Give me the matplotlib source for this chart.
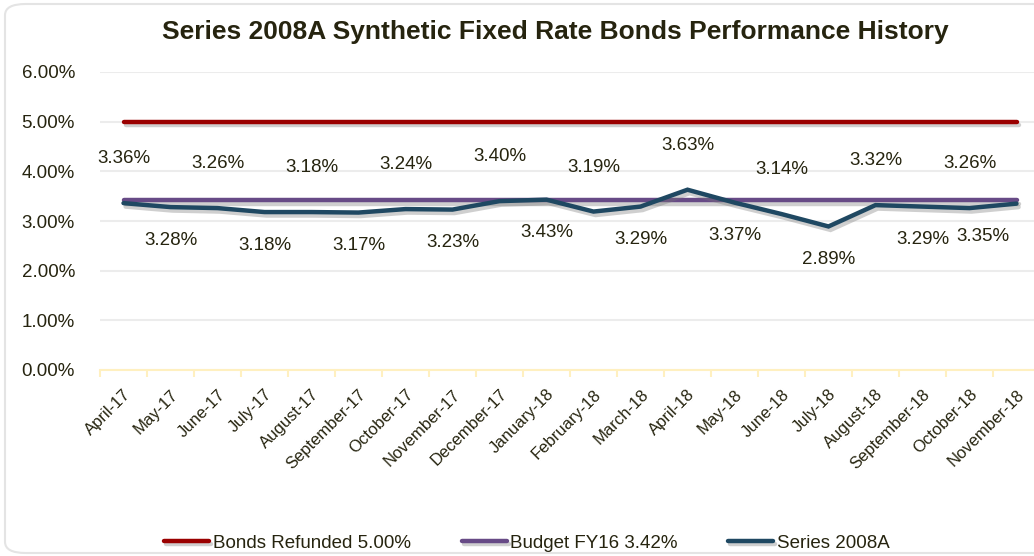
import matplotlib
matplotlib.use("Agg")
import matplotlib.pyplot as plt
import matplotlib.patheffects as pe
from matplotlib.patches import FancyBboxPatch
from matplotlib.ticker import FuncFormatter
import numpy as np

plt.rcParams['font.family'] = ['Liberation Sans Narrow', 'Liberation Sans', 'DejaVu Sans']

months = ["April-17", "May-17", "June-17", "July-17", "August-17", "September-17",
          "October-17", "November-17", "December-17", "January-18", "February-18",
          "March-18", "April-18", "May-18", "June-18", "July-18", "August-18",
          "September-18", "October-18", "November-18"]
series_2008a = [3.36, 3.28, 3.26, 3.18, 3.18, 3.17, 3.24, 3.23, 3.40, 3.43,
                3.19, 3.29, 3.63, 3.37, 3.14, 2.89, 3.32, 3.29, 3.26, 3.35]
bonds_refunded = 5.00
budget_fy16 = 3.42

txt = '#26240f'
W, H = 1034, 556
fig = plt.figure(figsize=(W / 100, H / 100), dpi=100)

# rounded card behind everything
card = FancyBboxPatch((5 / W, 3 / H), 1060 / W, 549 / H,
                      boxstyle="round,pad=0,rounding_size=0.02",
                      transform=fig.transFigure, facecolor='white',
                      edgecolor='#e4e4e4', linewidth=1.5, zorder=-10)
fig.patches.append(card)

ax = fig.add_axes([100 / W, (H - 370) / H, 940 / W, 298 / H])
ax.set_facecolor('none')

x = np.arange(len(months))
shadow = [pe.SimpleLineShadow(offset=(1.5, -2.5), shadow_color='#777777', alpha=0.35), pe.Normal()]

ax.plot(x, [bonds_refunded] * len(x), color='#9a0000', lw=3.2, solid_capstyle='round',
        label='Bonds Refunded 5.00%', path_effects=shadow, zorder=3)
ax.plot(x, [budget_fy16] * len(x), color='#674a86', lw=3.2, solid_capstyle='round',
        label='Budget FY16 3.42%', path_effects=shadow, zorder=3)
ax.plot(x, series_2008a, color='#1f4862', lw=3.2, solid_capstyle='round',
        solid_joinstyle='miter', label='Series 2008A', path_effects=shadow, zorder=4)

# data labels alternate above / below the line
last = len(series_2008a) - 1
for i, v in enumerate(series_2008a):
    dy = 32 if i % 2 == 0 else -24
    if i == last:
        ax.annotate(f"{v:.2f}%", (i, v), xytext=(-5, dy), textcoords='offset points',
                    ha='right', va='center', fontsize=13.5, color=txt)
    else:
        ax.annotate(f"{v:.2f}%", (i, v), xytext=(0, dy), textcoords='offset points',
                    ha='center', va='center', fontsize=13.5, color=txt)

ax.set_ylim(0, 6)
ax.set_xlim(-0.5, len(months) - 0.5)
ax.set_yticks(np.arange(0, 7, 1))
ax.yaxis.set_major_formatter(FuncFormatter(lambda v, p: f"{v:.2f}%"))
ax.grid(axis='y', color='#ececec', lw=1.5)
ax.set_axisbelow(True)

ax.set_xticks(x)
ax.set_xticklabels(months, rotation=45, ha='right', rotation_mode='anchor')
ax.set_xticks(np.arange(len(months) + 1) - 0.5, minor=True)
ax.tick_params(axis='x', which='major', length=0, pad=12, labelsize=12, labelcolor=txt)
ax.tick_params(axis='x', which='minor', length=5, width=1.5, color='#fff0c0')
ax.tick_params(axis='y', length=0, pad=18, labelsize=13.5, labelcolor=txt)

for s in ['top', 'right', 'left']:
    ax.spines[s].set_visible(False)
ax.spines['bottom'].set_color('#fff0c0')
ax.spines['bottom'].set_linewidth(1.5)

fig.text(555 / W, 1 - 32 / H, "Series 2008A Synthetic Fixed Rate Bonds Performance History",
         ha='center', va='center', fontsize=19, fontweight='bold', color=txt)

fig.legend(loc='center', bbox_to_anchor=(527 / W, 13 / H), ncol=3, frameon=False,
           fontsize=13.5, handlelength=2.4, handletextpad=0.2, columnspacing=2.7,
           labelcolor=txt)

fig.savefig("out.png", dpi=100)
